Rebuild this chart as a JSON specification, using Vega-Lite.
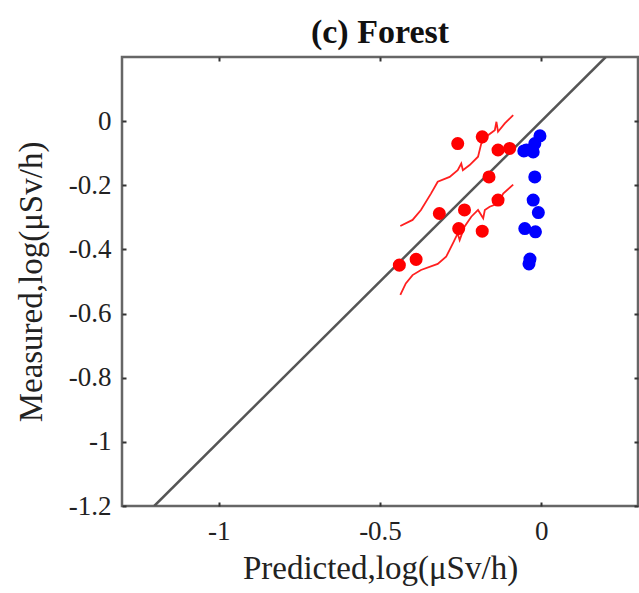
{
  "$schema": "https://vega.github.io/schema/vega-lite/v6.json",
  "autosize": "none",
  "width": 516,
  "height": 449,
  "padding": {"left": 122, "top": 57, "right": 1, "bottom": 87},
  "background": "white",
  "title": {"text": "(c) Forest", "font": "Liberation Serif", "fontSize": 34, "fontWeight": "bold", "color": "#111", "offset": 4, "anchor": "middle"},
  "config": {
    "view": {"stroke": "#666", "strokeWidth": 2.5},
    "axis": {"grid": false, "domain": false, "labelFont": "Liberation Serif", "labelFontSize": 27, "labelColor": "#222", "titleFont": "Liberation Serif", "titleFontSize": 33, "titleFontWeight": "normal", "titleColor": "#222", "tickColor": "#333", "tickWidth": 2, "tickSize": -4}
  },
  "datasets": {
    "red": [
      {"p": -0.259, "m": -0.070}, {"p": -0.183, "m": -0.049}, {"p": -0.134, "m": -0.090}, {"p": -0.098, "m": -0.085},
      {"p": -0.162, "m": -0.174}, {"p": -0.316, "m": -0.288}, {"p": -0.238, "m": -0.277}, {"p": -0.134, "m": -0.246},
      {"p": -0.256, "m": -0.335}, {"p": -0.183, "m": -0.343}, {"p": -0.440, "m": -0.449}, {"p": -0.388, "m": -0.431}
    ],
    "blue": [
      {"p": -0.004, "m": -0.046}, {"p": -0.020, "m": -0.070}, {"p": -0.046, "m": -0.090}, {"p": -0.025, "m": -0.096},
      {"p": -0.054, "m": -0.093}, {"p": -0.020, "m": -0.174}, {"p": -0.025, "m": -0.246}, {"p": -0.009, "m": -0.285},
      {"p": -0.051, "m": -0.335}, {"p": -0.018, "m": -0.345}, {"p": -0.035, "m": -0.430}, {"p": -0.038, "m": -0.445}
    ],
    "upper": [
      {"i": 0, "p": -0.437, "m": -0.327}, {"i": 1, "p": -0.399, "m": -0.308}, {"i": 2, "p": -0.373, "m": -0.277},
      {"i": 3, "p": -0.342, "m": -0.226}, {"i": 4, "p": -0.321, "m": -0.189}, {"i": 5, "p": -0.284, "m": -0.174},
      {"i": 6, "p": -0.259, "m": -0.153}, {"i": 7, "p": -0.248, "m": -0.132}, {"i": 8, "p": -0.243, "m": -0.153},
      {"i": 9, "p": -0.222, "m": -0.137}, {"i": 10, "p": -0.196, "m": -0.111}, {"i": 11, "p": -0.186, "m": -0.070},
      {"i": 12, "p": -0.165, "m": -0.044}, {"i": 13, "p": -0.144, "m": -0.028}, {"i": 14, "p": -0.139, "m": -0.002},
      {"i": 15, "p": -0.134, "m": -0.033}, {"i": 16, "p": -0.113, "m": -0.007}, {"i": 17, "p": -0.087, "m": 0.019}
    ],
    "lower": [
      {"i": 0, "p": -0.437, "m": -0.542}, {"i": 1, "p": -0.420, "m": -0.506}, {"i": 2, "p": -0.399, "m": -0.480},
      {"i": 3, "p": -0.373, "m": -0.464}, {"i": 4, "p": -0.321, "m": -0.445}, {"i": 5, "p": -0.295, "m": -0.423},
      {"i": 6, "p": -0.274, "m": -0.381}, {"i": 7, "p": -0.259, "m": -0.350}, {"i": 8, "p": -0.253, "m": -0.371},
      {"i": 9, "p": -0.238, "m": -0.329}, {"i": 10, "p": -0.217, "m": -0.298}, {"i": 11, "p": -0.196, "m": -0.277},
      {"i": 12, "p": -0.180, "m": -0.303}, {"i": 13, "p": -0.175, "m": -0.277}, {"i": 14, "p": -0.160, "m": -0.267},
      {"i": 15, "p": -0.134, "m": -0.257}, {"i": 16, "p": -0.118, "m": -0.226}, {"i": 17, "p": -0.087, "m": -0.198}
    ],
    "diag": [{"p": -1.2, "m": -1.2}, {"p": 0.2, "m": 0.2}]
  },
  "layer": [
    {
      "data": {"name": "diag"},
      "mark": {"type": "line", "color": "#555", "strokeWidth": 2.5, "clip": true},
      "encoding": {
        "x": {"field": "p", "type": "quantitative", "scale": {"domain": [-1.3, 0.3], "nice": false, "zero": false},
              "axis": {"orient": "bottom", "values": [-1, -0.5, 0], "title": "Predicted,log(μSv/h)", "labelPadding": 16, "titlePadding": 8, "labelExpr": "datum.value"}},
        "y": {"field": "m", "type": "quantitative", "scale": {"domain": [-1.2, 0.2], "nice": false, "zero": false},
              "axis": {"orient": "left", "values": [-1.2, -1, -0.8, -0.6, -0.4, -0.2, 0], "title": "Measured,log(μSv/h)", "labelPadding": 15, "titlePadding": 20, "labelExpr": "datum.value"}}
      }
    },
    {
      "data": {"name": "upper"},
      "mark": {"type": "line", "color": "#ff2020", "strokeWidth": 1.8},
      "encoding": {"x": {"field": "p", "type": "quantitative", "axis": null}, "y": {"field": "m", "type": "quantitative", "axis": null}, "order": {"field": "i"}}
    },
    {
      "data": {"name": "lower"},
      "mark": {"type": "line", "color": "#ff2020", "strokeWidth": 1.8},
      "encoding": {"x": {"field": "p", "type": "quantitative", "axis": null}, "y": {"field": "m", "type": "quantitative", "axis": null}, "order": {"field": "i"}}
    },
    {
      "data": {"name": "red"},
      "mark": {"type": "circle", "color": "#ff0000", "opacity": 1, "size": 170},
      "encoding": {"x": {"field": "p", "type": "quantitative", "axis": null}, "y": {"field": "m", "type": "quantitative", "axis": null}}
    },
    {
      "data": {"name": "blue"},
      "mark": {"type": "circle", "color": "#0000ff", "opacity": 1, "size": 170},
      "encoding": {"x": {"field": "p", "type": "quantitative", "axis": null}, "y": {"field": "m", "type": "quantitative", "axis": null}}
    },
    {
      "data": {"name": "diag"},
      "mark": {"type": "point", "opacity": 0},
      "encoding": {
        "x": {"field": "p", "type": "quantitative", "axis": {"orient": "top", "values": [-1, -0.5, 0], "labels": false, "title": null}},
        "y": {"field": "m", "type": "quantitative", "axis": {"orient": "right", "values": [-1.2, -1, -0.8, -0.6, -0.4, -0.2, 0], "labels": false, "title": null}}
      }
    }
  ],
  "resolve": {"axis": {"x": "independent", "y": "independent"}}
}
